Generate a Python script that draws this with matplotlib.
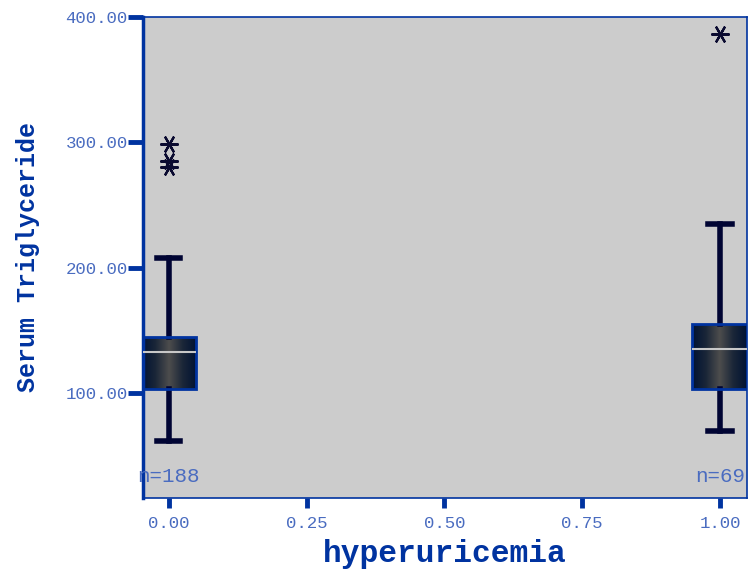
import numpy as np
import matplotlib
matplotlib.use('Agg')
import matplotlib.pyplot as plt
from matplotlib.colors import LinearSegmentedColormap

# values
groups = [0.0, 1.0]
counts = [188, 69]
q1 = [103.2, 103.2]
med = [132.8, 135.2]
q3 = [144.8, 155.2]
whislo = [61.6, 69.6]
whishi = [208.0, 234.4]
outliers = [[298.4, 284.8, 280.0], [386.4]]
xticks = [0.0, 0.25, 0.5, 0.75, 1.0]
yticks = [100, 200, 300, 400]

BLUE = '#0033a0'
LIGHT = '#4a6cc0'
NAVY = '#000433'
FONT = 'Liberation Mono'

fig = plt.figure(figsize=(7.48, 5.71), dpi=100)
ax = fig.add_axes([143 / 748, 73 / 571, 604 / 748, 481 / 571])
ax.set_facecolor('#cccccc')

stats = []
for i in range(len(groups)):
    stats.append(dict(med=med[i], q1=q1[i], q3=q3[i], whislo=whislo[i],
                      whishi=whishi[i], fliers=outliers[i]))

half = 0.05
res = ax.bxp(stats, positions=groups, widths=2 * half, patch_artist=True,
             boxprops=dict(facecolor='none', edgecolor=BLUE, linewidth=2),
             medianprops=dict(color='#c8c8c8', linewidth=1.5),
             whiskerprops=dict(color=NAVY, linewidth=4),
             capprops=dict(color=NAVY, linewidth=4),
             capwidths=0.042,
             flierprops=dict(marker=(6, 2, 90), markersize=13,
                             markeredgecolor='#0a0a30', markeredgewidth=1.6,
                             linestyle='none'),
             manage_ticks=False)

cmap = LinearSegmentedColormap.from_list(
    'boxgrad', ['#001233', '#1a2638', '#4d4d4d', '#1a2638', '#001233'])
grad = np.linspace(0, 1, 200).reshape(1, -1)
for i, box in enumerate(res['boxes']):
    im = ax.imshow(grad, cmap=cmap, aspect='auto', zorder=1.5,
                   extent=[groups[i] - half, groups[i] + half, q1[i], q3[i]])
    im.set_clip_path(box)
    box.set_zorder(2.5)
for m in res['medians']:
    m.set_zorder(3)

for i, g in enumerate(groups):
    ax.text(g, 33, 'n=%d' % counts[i], ha='center', va='center',
            family=FONT, fontsize=15, color=LIGHT)

ax.set_xlim(-0.047, 1.049)
ax.set_ylim(16, 400)
ax.set_xticks(xticks)
ax.set_xticklabels(['%.2f' % t for t in xticks])
ax.set_yticks(yticks)
ax.set_yticklabels(['%.2f' % t for t in yticks])
ax.tick_params(direction='out', width=3.5, color=BLUE,
               labelcolor=LIGHT, labelsize=12.5)
ax.tick_params(axis='y', length=11, pad=0)
ax.tick_params(axis='x', length=7, pad=6)
for lab in ax.get_xticklabels() + ax.get_yticklabels():
    lab.set_family(FONT)
for s in ax.spines.values():
    s.set_color(BLUE)
    s.set_linewidth(1.2)
ax.spines['left'].set_linewidth(2.5)

ax.set_xlabel('hyperuricemia', family=FONT, fontweight='bold',
              fontsize=22.5, color=BLUE, labelpad=6)
ax.set_ylabel('Serum Triglyceride', family=FONT, fontweight='bold',
              fontsize=18, color=BLUE, labelpad=18)

fig.savefig('out.png', dpi=100)
